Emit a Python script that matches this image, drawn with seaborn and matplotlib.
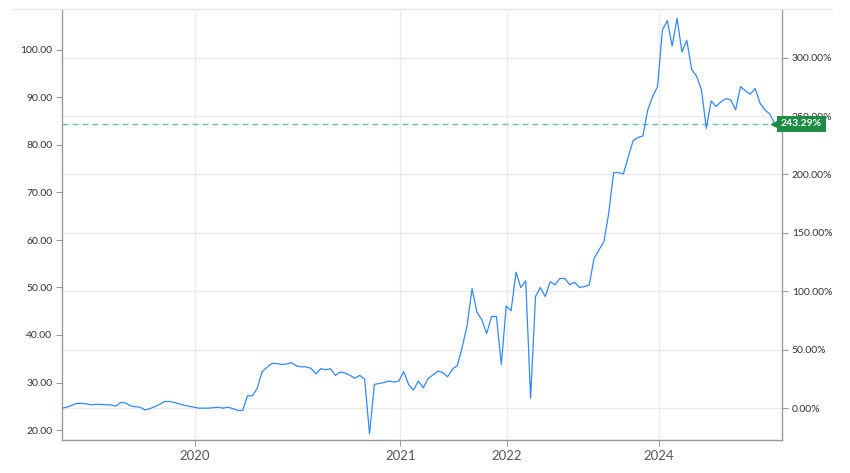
import numpy as np
import pandas as pd
import matplotlib.pyplot as plt
import seaborn as sns
from matplotlib.lines import Line2D
from matplotlib.transforms import blended_transform_factory

# Price series (one value per sample, equally spaced on the x axis)
price = [
    24.6, 24.8, 25.2, 25.6, 25.6, 25.5, 25.3, 25.4, 25.4, 25.3,
    25.3, 25.0, 25.8, 25.7, 25.1, 24.9, 24.8, 24.2, 24.5, 24.9,
    25.4, 26.0, 26.0, 25.8, 25.5, 25.2, 25.0, 24.8, 24.6, 24.6,
    24.6, 24.7, 24.8, 24.6, 24.8, 24.5, 24.1, 24.1, 27.2, 27.2,
    28.8, 32.3, 33.2, 34.0, 34.0, 33.8, 33.9, 34.2, 33.5, 33.3,
    33.3, 33.0, 31.8, 32.9, 32.7, 32.9, 31.5, 32.2, 32.0, 31.5,
    30.9, 31.5, 30.7, 19.2, 29.6, 29.8, 30.0, 30.3, 30.1, 30.3,
    32.3, 29.6, 28.4, 30.3, 28.9, 30.8, 31.6, 32.4, 32.1, 31.2,
    32.8, 33.6, 37.5, 42.0, 49.8, 44.8, 43.2, 40.3, 43.9, 43.9,
    33.8, 46.1, 45.1, 53.2, 50.0, 51.4, 26.7, 48.1, 50.0, 48.1,
    51.2, 50.6, 51.9, 51.9, 50.6, 51.1, 50.0, 50.2, 50.5, 56.1,
    57.9, 59.6, 65.6, 74.2, 74.2, 73.9, 77.5, 80.9, 81.6, 81.9,
    87.4, 90.2, 92.3, 104.2, 106.2, 100.8, 106.7, 99.6, 102.0, 95.9,
    94.5, 91.6, 83.5, 89.3, 88.1, 89.1, 89.75, 89.5, 87.4, 92.3,
    91.4, 90.7, 91.9, 88.8, 87.4, 86.5, 84.45,
]

year_labels = ['2020', '2021', '2022', '2024']
year_pos = [27.25, 69.3, 91.2, 122.3]
price_ticks = [20, 30, 40, 50, 60, 70, 80, 90, 100]
pct_ticks = [0, 50, 100, 150, 200, 250, 300]

df = pd.DataFrame({'step': np.arange(len(price)), 'price': price})
base = price[0]
last = price[-1]
change = (last / base - 1) * 100

sns.set_theme(style='white')
plt.rcParams['font.family'] = ['Lato', 'DejaVu Sans']

fig = plt.figure(figsize=(8.5, 4.73), dpi=100)
ax = fig.add_axes([62 / 850, 1 - 440 / 473, 720 / 850, 430 / 473])
ax2 = ax.twinx()

line_col = '#3388ff'
green = '#1f8c45'

sns.lineplot(data=df, x='step', y='price', ax=ax, color=line_col, lw=0.9, zorder=3)

ymin, ymax = 20 - 10 / 4.75, 100 + 40 / 4.75
ax.set_ylim(ymin, ymax)
ax.set_xlim(0, 147.5)
ax2.set_ylim((ymin / base - 1) * 100, (ymax / base - 1) * 100)

ax.set_yticks(price_ticks)
ax.set_yticklabels([f'{v:.2f}' for v in price_ticks])
ax2.set_yticks(pct_ticks)
ax2.set_yticklabels([f'{v:.2f}%' for v in pct_ticks])
ax.set_xticks(year_pos)
ax.set_xticklabels(year_labels)
ax.set_xlabel('')
ax.set_ylabel('')

# grid: vertical from the year ticks, horizontal from the percent axis
ax.grid(axis='x', color='#ebebeb', lw=1)
ax.grid(axis='y', visible=False)
ax2.grid(axis='y', color='#ebebeb', lw=1)
ax2.set_zorder(0)
ax.set_zorder(1)
ax.patch.set_visible(False)

for a in (ax, ax2):
    for s in a.spines.values():
        s.set_color('#9a9a9a')
        s.set_linewidth(1)
    a.spines['top'].set_visible(False)
ax.spines['right'].set_visible(False)
ax2.spines['left'].set_visible(False)
ax2.spines['bottom'].set_visible(False)

ax.tick_params(axis='y', length=4, width=0.8, color='#9a9a9a', labelsize=7.5, labelcolor='#333333', pad=3)
ax2.tick_params(axis='y', length=4, width=0.8, color='#9a9a9a', labelsize=7.5, labelcolor='#333333', pad=3)
ax.tick_params(axis='x', length=4, width=0.8, color='#9a9a9a', labelsize=9.5, labelcolor='#555555', pad=3, bottom=True)

# last value reference line and badge
ax.axhline(last, color='#6cbf90', lw=1.0, dashes=(4.3, 2.9), zorder=2)
tr = blended_transform_factory(ax.transAxes, ax.transData)
ax.plot([(777 - 62) / 720], [last], marker='<', ms=9, color=green, mec=green,
        transform=tr, clip_on=False, zorder=6)
ax.text((781 - 62) / 720, last, f'{change:.2f}%', transform=tr, ha='left', va='center',
        color='white', fontsize=7.5, fontweight='bold', zorder=7, clip_on=False,
        bbox=dict(boxstyle='square,pad=0.35', fc=green, ec='none'))

fig.add_artist(Line2D([12 / 850, 832 / 850], [1 - 9.5 / 473] * 2, color='#e6e6e6', lw=1))

fig.savefig('out.png', dpi=100)
